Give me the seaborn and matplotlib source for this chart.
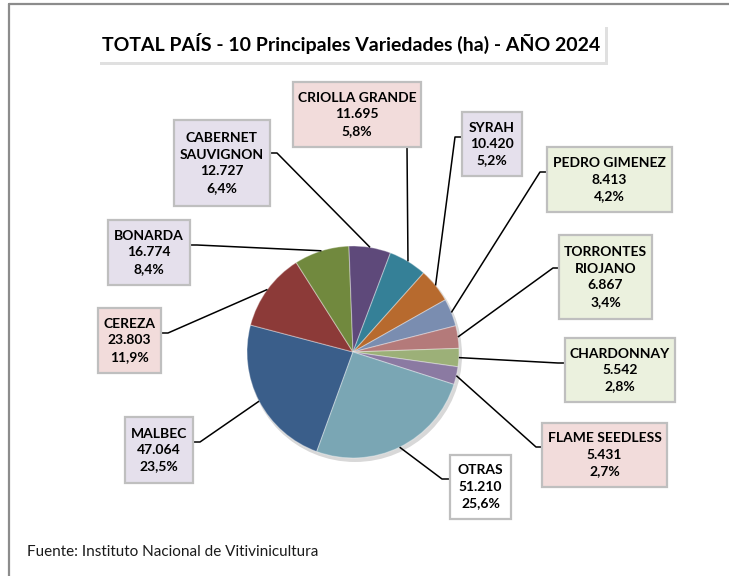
import matplotlib
matplotlib.use("Agg")
import matplotlib.pyplot as plt
import seaborn as sns
import numpy as np
from matplotlib.patches import Rectangle, Circle

# ---- data (Excel order, clockwise) ----
varieties = ["MALBEC", "CEREZA", "BONARDA", "CABERNET\nSAUVIGNON", "CRIOLLA GRANDE",
             "SYRAH", "PEDRO GIMENEZ", "TORRONTES\nRIOJANO", "CHARDONNAY",
             "FLAME SEEDLESS", "OTRAS"]
hectares = [47064, 23803, 16774, 12727, 11695, 10420, 8413, 6867, 5542, 5431, 51210]
percent = [23.5, 11.9, 8.4, 6.4, 5.8, 5.2, 4.2, 3.4, 2.8, 2.7, 25.6]
slice_colors = ["#3A5E8A", "#8C3A38", "#71893E", "#5E497A", "#358097", "#B76A2E",
                "#7A8DB0", "#B47A7A", "#9CB078", "#8B7AA2", "#7AA6B4"]
box_colors = ["#E5E0EC", "#F2DCDB", "#E5E0EC", "#E5E0EC", "#F2DCDB", "#E5E0EC",
              "#EBF1DE", "#EBF1DE", "#EBF1DE", "#F2DCDB", "#FFFFFF"]
title = "TOTAL PAÍS - 10 Principales Variedades (ha) - AÑO 2024"
source = "Fuente: Instituto Nacional de Vitivinicultura"

# ---- layout (image pixel coords, y downward) ----
W, H = 729, 576
boxes = [  # x0, y0, x1, y1
    (125, 417, 193, 483),   # MALBEC
    (98, 308, 161, 373),    # CEREZA
    (108, 220, 190, 285),   # BONARDA
    (174, 120, 270, 206),   # CABERNET
    (293, 82, 421, 147),    # CRIOLLA
    (462, 112, 522, 176),   # SYRAH
    (547, 147, 672, 212),   # PEDRO
    (559, 235, 652, 319),   # TORRONTES
    (565, 338, 675, 402),   # CHARDONNAY
    (542, 423, 667, 487),   # FLAME
    (450, 455, 511, 519),   # OTRAS
]
attach = [(193, 442), (161, 333), (190, 245), (270, 153), (407, 147), (462, 137),
          (547, 172), (559, 268), (565, 363), (542, 447), (450, 479)]
elbow = [(200, 442), (168, 333), (197, 245), (277, 153), (407, 147), (455, 137),
         (540, 172), (553, 268), (558, 363), (536, 447), (442, 479)]

sns.set_theme(style="white")
plt.rcParams["font.family"] = ["Lato", "DejaVu Sans"]

fig = plt.figure(figsize=(W / 100, H / 100), dpi=100)
fig.patch.set_facecolor("white")
ax = fig.add_axes([0, 0, 1, 1])

def Y(y):
    return H - y

cx, cy, R = 353, Y(352), 106
ax.add_patch(Circle((cx + 2, cy - 3), R + 1, facecolor="#C8C8C8", edgecolor="none",
                    alpha=0.7, zorder=1))
wedges, _ = ax.pie(hectares, colors=slice_colors, startangle=-110, counterclock=False,
                   center=(cx, cy), radius=R,
                   wedgeprops=dict(edgecolor=(1, 1, 1, 0.35), linewidth=0.8))
for w in wedges:
    w.set_zorder(2)

ax.set_xlim(0, W)
ax.set_ylim(0, H)
ax.set_aspect("auto")
ax.axis("off")

def fmt_int(v):
    return f"{v:,}".replace(",", ".")

for i, w in enumerate(wedges):
    mid = np.deg2rad((w.theta1 + w.theta2) / 2)
    ex, ey = cx + R * np.cos(mid), cy + R * np.sin(mid)
    xs = [ex, elbow[i][0], attach[i][0]]
    ys = [ey, Y(elbow[i][1]), Y(attach[i][1])]
    ax.plot(xs, ys, color="black", lw=1.1, zorder=3, solid_capstyle="butt")
    x0, y0, x1, y1 = boxes[i]
    ax.add_patch(Rectangle((x0, Y(y1)), x1 - x0, y1 - y0, facecolor=box_colors[i],
                           edgecolor="#BFBFBF", lw=1.6, zorder=4))
    pct = f"{percent[i]:.1f}".replace(".", ",") + "%"
    txt = f"{varieties[i]}\n{fmt_int(hectares[i])}\n{pct}"
    ax.text((x0 + x1) / 2, Y((y0 + y1) / 2), txt, ha="center", va="center",
            fontsize=10, fontweight="bold", color="black", linespacing=1.45, zorder=5)

# title box with shadow
ax.add_patch(Rectangle((100, Y(65)), 508, 38, facecolor="#D9D9D9", edgecolor="none",
                       alpha=0.8, zorder=1))
ax.add_patch(Rectangle((97, Y(62)), 508, 37, facecolor="white", edgecolor="none", zorder=2))
ax.text(351, Y(43), title, ha="center", va="center", fontsize=14, fontweight="bold",
        color="black", zorder=3)

ax.text(27, Y(552), source, ha="left", va="center", fontsize=11, color="#1A1A1A")

# outer frame
ax.plot([9, W], [Y(4), Y(4)], color="#8C8C8C", lw=1.6, zorder=6)
ax.plot([9, 9], [Y(4), 0], color="#8C8C8C", lw=1.6, zorder=6)

fig.savefig("out.png", dpi=100, facecolor="white")
